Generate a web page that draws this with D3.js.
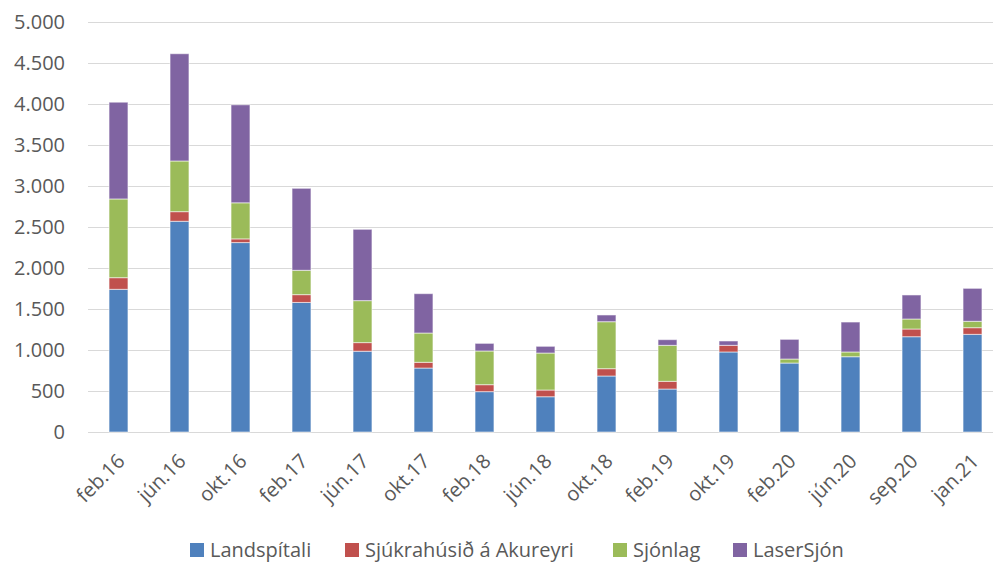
<!DOCTYPE html>
<html>
<head>
<meta charset="utf-8">
<script src="https://cdn.jsdelivr.net/npm/d3@7"></script>
<style>
  body { margin: 0; background: #fff; }
  svg { display: block; font-family: "Open Sans", sans-serif; }
</style>
</head>
<body>
<script>
const width = 993;
const height = 564;

const categories = ["feb.16", "jún.16", "okt.16", "feb.17", "jún.17", "okt.17", "feb.18", "jún.18",
  "okt.18", "feb.19", "okt.19", "feb.20", "jún.20", "sep.20", "jan.21"];
const seriesNames = ["Landspítali", "Sjúkrahúsið á Akureyri", "Sjónlag", "LaserSjón"];
const landspitali = [1740, 2570, 2310, 1580, 985, 780, 492, 430, 683, 524, 976, 841, 918, 1162, 1191];
const akureyri = [142, 117, 45, 95, 105, 70, 85, 82, 89, 94, 81, 0, 0, 94, 81];
const sjonlag = [960, 618, 440, 297, 512, 357, 411, 451, 573, 439, 0, 49, 58, 122, 78];
const laserSjon = [1180, 1308, 1195, 1000, 870, 480, 93, 82, 82, 69, 53, 240, 365, 293, 402];
const yTicks = [0, 500, 1000, 1500, 2000, 2500, 3000, 3500, 4000, 4500, 5000];
const colors = ["#4F81BD", "#C0504D", "#9BBB59", "#8064A2"];

const rows = categories.map((c, i) => ({
  cat: c,
  [seriesNames[0]]: landspitali[i],
  [seriesNames[1]]: akureyri[i],
  [seriesNames[2]]: sjonlag[i],
  [seriesNames[3]]: laserSjon[i]
}));

const svg = d3.select("body").append("svg")
  .attr("width", width)
  .attr("height", height);

const x = d3.scaleBand()
  .domain(categories)
  .range([88, 1003])
  .paddingInner(0.69)
  .paddingOuter(0.345);

const y = d3.scaleLinear().domain([0, 5000]).range([432, 22]);

const fmt = d3.formatLocale({ decimal: ",", thousands: ".", grouping: [3], currency: ["", ""] }).format(",d");

// gridlines
svg.append("g")
  .selectAll("line")
  .data(yTicks)
  .join("line")
  .attr("x1", 88)
  .attr("x2", 1003)
  .attr("y1", d => y(d) + 0.5)
  .attr("y2", d => y(d) + 0.5)
  .attr("stroke", "#d9d9d9")
  .attr("stroke-width", 1.2);

// y labels
svg.append("g")
  .selectAll("text")
  .data(yTicks)
  .join("text")
  .attr("x", 65)
  .attr("y", d => y(d))
  .attr("dy", "0.36em")
  .attr("text-anchor", "end")
  .attr("fill", "#595959")
  .style("font-size", "20px")
  .text(d => fmt(d));

// stacked bars
const stack = d3.stack().keys(seriesNames);
const stacked = stack(rows);

svg.append("g")
  .selectAll("g")
  .data(stacked)
  .join("g")
  .attr("fill", (d, i) => colors[i])
  .selectAll("rect")
  .data(d => d.filter(p => p[1] - p[0] > 0))
  .join("rect")
  .attr("x", d => x(d.data.cat))
  .attr("width", x.bandwidth())
  .attr("y", d => y(d[1]))
  .attr("height", d => y(d[0]) - y(d[1]))
  .attr("stroke", "#ffffff")
  .attr("stroke-opacity", 0.55)
  .attr("stroke-width", 1);

// x labels
svg.append("g")
  .selectAll("text")
  .data(categories)
  .join("text")
  .attr("text-anchor", "end")
  .attr("fill", "#595959")
  .style("font-size", "20px")
  .attr("transform", d => `translate(${x(d) + x.bandwidth() / 2 - 1},${454}) rotate(-45)`)
  .attr("dy", "0.6em")
  .text(d => d);

// legend
const legendX = [190, 345, 613, 733];
const legend = svg.append("g")
  .selectAll("g")
  .data(seriesNames)
  .join("g")
  .attr("transform", (d, i) => `translate(${legendX[i]},550)`);
legend.append("rect")
  .attr("x", 0)
  .attr("y", -7)
  .attr("width", 14)
  .attr("height", 14)
  .attr("fill", (d, i) => colors[i]);
legend.append("text")
  .attr("x", 20)
  .attr("dy", "0.36em")
  .attr("fill", "#595959")
  .style("font-size", "20px")
  .text(d => d);
</script>
</body>
</html>
